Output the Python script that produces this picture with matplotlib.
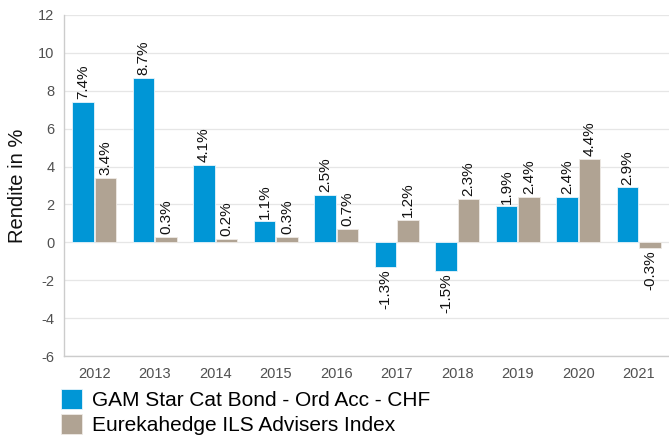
import matplotlib
matplotlib.use("Agg")
import matplotlib.pyplot as plt
import numpy as np

plt.rcParams['font.family'] = ['Liberation Sans', 'DejaVu Sans']
plt.rcParams['axes.unicode_minus'] = False

years = ["2012", "2013", "2014", "2015", "2016", "2017", "2018", "2019", "2020", "2021"]
gam = [7.4, 8.7, 4.1, 1.1, 2.5, -1.3, -1.5, 1.9, 2.4, 2.9]
eureka = [3.4, 0.3, 0.2, 0.3, 0.7, 1.2, 2.3, 2.4, 4.4, -0.3]
series_names = ["GAM Star Cat Bond - Ord Acc - CHF", "Eurekahedge ILS Advisers Index"]
colors = ["#0096d6", "#b0a393"]

fig = plt.figure(figsize=(6.69, 4.36), dpi=100)
ax = fig.add_axes([64/669, 1-356/436, 1-64/669, 341/436])

x = np.arange(len(years))
w = 0.35
b1 = ax.bar(x - w/2 - 0.01, gam, w, color=colors[0], edgecolor="#e8f4fb", linewidth=0.6, label=series_names[0], zorder=3)
b2 = ax.bar(x + w/2 + 0.01, eureka, w, color=colors[1], edgecolor="#eeeae5", linewidth=0.6, label=series_names[1], zorder=3)

for bars, vals in ((b1, gam), (b2, eureka)):
    for r, v in zip(bars, vals):
        cx = r.get_x() + r.get_width()/2
        if v >= 0:
            ax.annotate(f"{v:.1f}%", (cx, v), xytext=(0, 2), textcoords="offset points",
                        rotation=90, ha="center", va="bottom", fontsize=11, color="#111111")
        else:
            ax.annotate(f"{v:.1f}%", (cx, v), xytext=(0, -2), textcoords="offset points",
                        rotation=90, ha="center", va="top", fontsize=11, color="#111111")

ax.set_xlim(-0.5, len(years) - 0.5)
ax.set_ylim(-6, 12)
ax.set_yticks(np.arange(-6, 13, 2))
ax.set_xticks(x)
ax.set_xticklabels(years)
ax.tick_params(axis="both", length=0, labelsize=10.5, labelcolor="#505050")
ax.tick_params(axis="y", pad=7)
ax.tick_params(axis="x", pad=8)
ax.grid(axis="y", color="#e6e6e6", linewidth=0.9, zorder=0)
for s in ("top", "right"):
    ax.spines[s].set_visible(False)
for s in ("left", "bottom"):
    ax.spines[s].set_color("#cccccc")
    ax.spines[s].set_linewidth(1.0)
ax.set_ylabel("Rendite in %", fontsize=14.5, color="#111111")
ax.yaxis.set_label_coords(-0.061, 0.5)

fig.legend(handles=[b1, b2], labels=series_names, loc="upper left",
           bbox_to_anchor=(53/669, 1-381/436), frameon=False, fontsize=15,
           handlelength=1.0, handleheight=1.05, handletextpad=0.45, labelspacing=0.2,
           borderaxespad=0)

fig.savefig("out.png", dpi=100)
